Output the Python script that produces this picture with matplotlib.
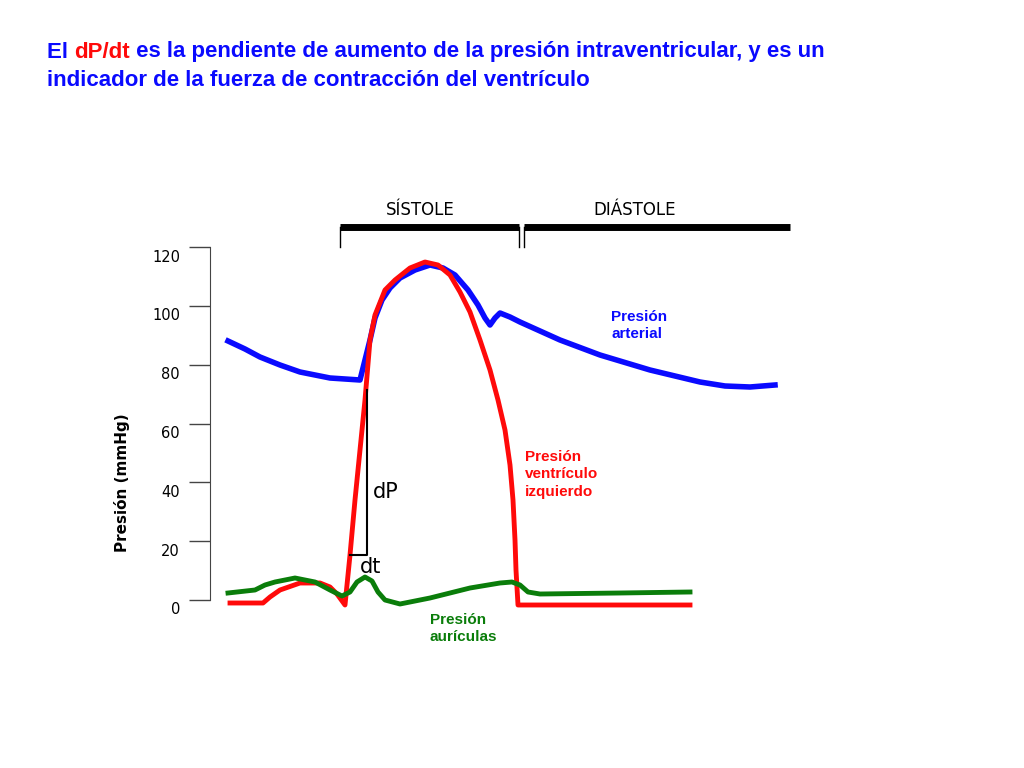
import matplotlib
matplotlib.use("Agg")
import matplotlib.pyplot as plt
import numpy as np

# pixel-based time axis, y in mmHg
PX = 2.94  # px per mmHg
def mm(py):
    return (600 - np.asarray(py, dtype=float)) / PX

arterial_t = [228, 245, 260, 280, 300, 330, 360, 365, 370, 375, 382, 390, 400, 415, 430, 443, 455, 468,
              478, 485, 490, 495, 500, 510, 520, 540, 560, 600, 650, 700, 725, 750, 775]
arterial_py = [341, 349, 357, 365, 372, 378, 380, 360, 340, 318, 300, 288, 278, 270, 265, 268, 275, 290,
               305, 318, 325, 318, 313, 317, 322, 331, 340, 355, 370, 382, 386, 387, 385]
ventricle_t = [230, 263, 270, 280, 300, 320, 330, 337, 345, 350, 355, 360, 365, 370, 375, 385, 395, 410,
               425, 438, 450, 460, 470, 480, 490, 498, 505, 510, 513, 515, 516, 518, 690]
ventricle_py = [603, 603, 597, 590, 583, 583, 587, 594, 605, 555, 500, 450, 400, 340, 315, 290, 280, 268,
                262, 265, 275, 292, 312, 340, 370, 400, 430, 465, 500, 540, 570, 605, 605]
atria_t = [228, 255, 265, 275, 295, 315, 330, 342, 350, 357, 365, 372, 378, 385, 400, 430, 470, 500,
           512, 520, 528, 540, 620, 690]
atria_py = [593, 590, 585, 582, 578, 582, 590, 596, 592, 582, 577, 581, 592, 600, 604, 598, 588, 583,
            582, 585, 592, 594, 593, 592]
yticks = [0, 20, 40, 60, 80, 100, 120]

fig = plt.figure(figsize=(10.24, 7.68), dpi=100)
ax = fig.add_axes([0, 0, 1, 1])
ax.set_xlim(0, 1024)
ax.set_ylim(mm(768), mm(0))
for s in ["top", "right", "bottom"]:
    ax.spines[s].set_visible(False)
ax.spines["left"].set_position(("data", 210))
ax.spines["left"].set_bounds(0, 120)
ax.spines["left"].set_color("#444444")
ax.set_xticks([])
ax.set_yticks(yticks)
ax.set_yticklabels([])
ax.tick_params(axis="y", length=15, width=1, colors="#444444")
for v in yticks:
    ax.text(180, v - 10 / PX, str(v), fontsize=10.5, ha="right", va="center", family="DejaVu Sans")

ax.plot(arterial_t, mm(arterial_py), color="#0a0aff", lw=4, solid_joinstyle="round")
ax.plot(ventricle_t, mm(ventricle_py), color="#ff0a0a", lw=3.5, solid_joinstyle="round")
ax.plot(atria_t, mm(atria_py), color="#0a7d0a", lw=3.5, solid_joinstyle="round")

# dP/dt triangle
ax.plot([350, 367, 367], mm([555, 555, 390]), color="black", lw=1.5)
ax.text(373, mm(492), "dP", fontsize=15, va="center")
ax.text(360, mm(567), "dt", fontsize=15, va="center")

# systole / diastole bars
ax.plot([340, 519], mm([227, 227]), color="black", lw=5, solid_capstyle="butt")
ax.plot([524, 790], mm([227, 227]), color="black", lw=5, solid_capstyle="butt")
for x in [340, 519, 524]:
    ax.plot([x, x], mm([227, 247]), color="black", lw=1)
ax.text(420, mm(210), "SÍSTOLE", fontsize=12, ha="center", va="center")
ax.text(635, mm(210), "DIÁSTOLE", fontsize=12, ha="center", va="center")

bold = dict(fontsize=11, fontweight="bold", family="Liberation Sans", va="top")
ax.text(611, mm(310), "Presión\narterial", color="#0a0aff", linespacing=1.3, **bold)
ax.text(525, mm(450), "Presión\nventrículo\nizquierdo", color="#ff0a0a", linespacing=1.3, **bold)
ax.text(430, mm(613), "Presión\naurículas", color="#0a7d0a", linespacing=1.3, **bold)

ax.text(122, mm(483), "Presión (mmHg)", rotation=90, fontsize=11, fontweight="bold",
        ha="center", va="center", family="DejaVu Sans")

# title with coloured fragment
renderer = fig.canvas.get_renderer()
x = 47
for txt, col in [("El ", "#0a0aff"), ("dP/dt", "#ff0a0a"),
                 (" es la pendiente de aumento de la presión intraventricular, y es un", "#0a0aff")]:
    t = fig.text(x / 1024, 1 - 52 / 768, txt, color=col, fontsize=16, fontweight="bold",
                 family="Liberation Sans", va="center")
    x += t.get_window_extent(renderer).width
fig.text(47 / 1024, 1 - 80 / 768, "indicador de la fuerza de contracción del ventrículo",
         color="#0a0aff", fontsize=16, fontweight="bold", family="Liberation Sans", va="center")

fig.savefig("out.png", dpi=100)
